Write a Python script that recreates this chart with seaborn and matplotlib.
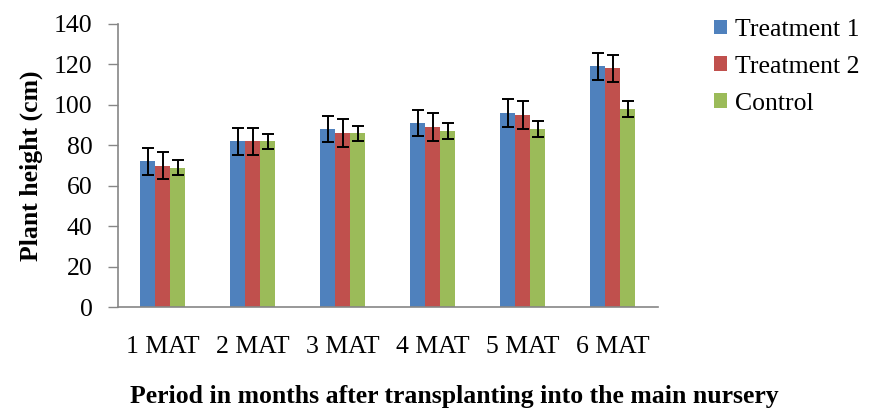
import matplotlib
matplotlib.use("Agg")
import matplotlib.pyplot as plt
import seaborn as sns
import pandas as pd
import numpy as np

periods = ["1 MAT", "2 MAT", "3 MAT", "4 MAT", "5 MAT", "6 MAT"]
series = ["Treatment 1", "Treatment 2", "Control"]
treat1 = [72, 82, 88, 91, 96, 119]
treat2 = [70, 82, 86, 89, 95, 118]
control = [69, 82, 86, 87, 88, 98]
treat1_err = [6.5, 6.7, 6.6, 6.6, 6.8, 6.7]
treat2_err = [6.6, 6.7, 6.9, 6.8, 6.7, 6.7]
control_err = [3.9, 3.8, 3.7, 4.0, 4.0, 4.0]
colors = ["#4F81BD", "#C0504D", "#9BBB59"]

sns.set_theme(style="white")
plt.rcParams['font.family'] = ['Liberation Serif', 'DejaVu Serif']
plt.rcParams['text.color'] = 'black'
plt.rcParams['axes.labelcolor'] = 'black'

FS = 18.5

rows = []
for s, vals in zip(series, [treat1, treat2, control]):
    for p, v in zip(periods, vals):
        rows.append({"period": p, "series": s, "value": v})
df = pd.DataFrame(rows)

fig = plt.figure(figsize=(8.8, 4.08), dpi=100)
ax = fig.add_axes([117.5/880, 101/408, 540/880, 283/408])
sns.barplot(data=df, x="period", y="value", hue="series", order=periods,
            hue_order=series, palette=colors, width=0.5, errorbar=None,
            saturation=1, ax=ax, edgecolor="none", linewidth=0)

errs = [treat1_err, treat2_err, control_err]
vals = [treat1, treat2, control]
bar_conts = list(ax.containers)
for i, cont in enumerate(bar_conts):
    xs = [b.get_x() + b.get_width() / 2 for b in cont.patches]
    ax.errorbar(xs, vals[i], yerr=errs[i], fmt="none", ecolor="black",
                elinewidth=1.4, capsize=4, capthick=1.4, zorder=5)

ax.set_xlim(-0.5, 5.5)
ax.set_ylim(0, 140)
ax.set_yticks(range(0, 141, 20))
ax.tick_params(axis="y", which="both", direction="out", length=7, width=1,
               color="#868686", labelcolor="black", labelsize=FS, pad=11,
               left=True)
ax.tick_params(axis="x", length=0, labelsize=FS, labelcolor="black", pad=21)
for sp in ["top", "right"]:
    ax.spines[sp].set_visible(False)
for sp in ["left", "bottom"]:
    ax.spines[sp].set_color("#868686")
    ax.spines[sp].set_linewidth(1.2)
ax.grid(False)

ax.set_xlabel("Period in months after transplanting into the main nursery",
              fontsize=FS, fontweight="bold")
ax.xaxis.set_label_coords((454 - 117.5) / 540, (307 - 385) / 283)
ax.set_ylabel("Plant height (cm)", fontsize=FS, fontweight="bold", labelpad=8)

leg = ax.legend(loc="upper left", bbox_to_anchor=(714/880, (408-19)/408),
                bbox_transform=fig.transFigure, frameon=False, fontsize=FS,
                handlelength=0.5, handleheight=0.5, handletextpad=0.3,
                labelspacing=0.58, borderaxespad=0, borderpad=0)

fig.savefig("out.png", dpi=100, facecolor="white")
